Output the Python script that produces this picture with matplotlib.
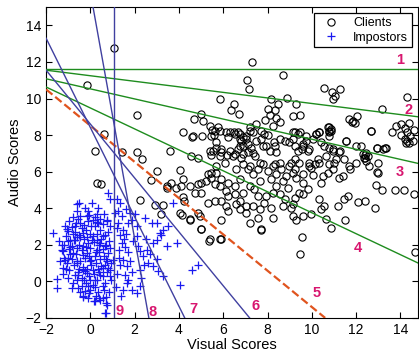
import numpy as np
import matplotlib
matplotlib.use("Agg")
import matplotlib.pyplot as plt

plt.rcParams['font.family'] = ['Liberation Sans', 'DejaVu Sans']

# client scores (visual, audio)
clients = [
    (1.05,12.75),(-0.15,10.75),(2.1,9.1),(0.6,8.05),(0.2,7.15),(1.45,7.05),(2.1,7.1),(2.35,6.7),
    (3.6,7.15),(3.0,6.05),(4.05,6.1),(0.3,5.4),(0.5,5.3),(2.25,4.45),(2.9,4.15),(3.3,4.15),
    (3.2,3.7),(2.75,5.55),(3.45,5.2),(3.85,5.1),(4.2,4.6),(4.15,3.65),(4.5,3.4),(5.0,2.85),
    (5.35,2.2),(5.85,2.3),(7.7,2.8),(9.45,1.5),(9.55,2.45),(14.65,1.6),
    (7.3,12.0),(7.05,11.0),(7.15,10.5),(8.7,11.3),(5.85,10.0),(6.5,9.7),(6.35,9.35),(6.7,9.15),
    (8.15,10.0),(8.45,9.7),(8.9,10.05),(9.3,9.7),(8.0,9.4),(8.35,9.35),(10.55,10.55),(10.9,10.35),
    (11.25,10.5),(11.05,10.15),(10.95,9.95),(14.3,10.1),(13.15,9.45),(9.15,9.05),(9.45,9.1),
    (8.4,8.95),(8.55,8.7),(8.25,8.5),(4.2,8.15),(4.7,8.9),(5.0,9.15),(5.1,8.75),(4.65,7.95),
    (5.05,7.95),(4.6,7.87),(5.5,8.3),(5.75,8.45),(5.6,8.0),(6.29,8.18),(6.48,8.15),(6.74,8.05),
    (6.89,7.87),(6.81,7.69),(7.01,7.78),(7.11,7.5),(6.74,7.41),(7.19,8.24),(7.49,8.6),(7.7,8.2),
    (7.9,8.8),(8.1,9.1),(8.3,7.6),(7.8,7.4),(8.0,8.0),
    (5.66,7.32),(5.39,7.14),(5.46,6.9),(5.84,6.86),(5.92,7.05),(6.17,6.9),(6.29,7.14),(6.51,6.96),
    (6.66,7.23),(6.89,6.96),(7.11,7.08),(7.27,7.32),(7.34,7.01),(7.45,6.83),(4.56,6.83),(4.86,6.77),
    (12.67,8.24),(11.69,8.88),(11.87,8.79),(12.02,9.03),(11.8,8.7),(11.96,8.66),
    (13.62,8.15),(13.8,8.51),(14.02,8.6),(14.22,8.37),(14.29,8.15),(14.4,8.66),(14.62,8.29),
    (14.02,8.0),(14.22,7.78),(14.44,7.96),(14.29,7.69),(14.55,7.69),(14.25,7.56),(14.4,7.56),
    (10.79,8.42),(10.79,8.24),(10.87,8.33),(10.76,8.15),(10.34,8.15),(10.19,8.05),(10.04,7.78),
    (9.74,7.69),(9.36,8.05),(9.22,8.15),(9.47,8.15),(9.14,7.78),(9.62,7.51),(9.56,7.23),
    (9.82,7.14),(10.42,7.6),(10.57,7.41),(10.79,7.32),(10.94,7.14),(11.27,7.14),(11.55,7.69),
    (12.22,7.38),(12.41,6.9),(12.37,6.77),(12.92,7.32),(13.19,7.23),(13.35,7.27),
    (3.66,5.4),(3.44,5.13),(4.16,5.58),(4.11,5.21),(4.49,5.21),(4.71,4.85),(5.01,4.85),(4.86,5.31),
    (5.01,5.4),(5.24,5.49),(5.46,5.68),(5.61,5.31),(5.31,5.86),(5.69,5.95),(5.91,5.58),(5.84,5.21),
    (6.14,4.96),(6.21,5.4),(6.51,5.21),(6.74,5.58),(6.59,6.13),(6.89,6.41),(7.11,6.13),(7.34,5.86),
    (7.56,6.13),(7.79,6.41),(8.01,6.04),(8.24,6.31),(8.39,5.86),(8.17,5.58),(7.64,5.49),(7.19,5.21),
    (7.41,5.03),(6.89,4.85),(6.51,4.76),(6.21,4.66),(5.91,4.39),(5.61,4.39),(5.31,4.3),(6.14,4.12),
    (6.59,4.21),(6.74,4.39),(7.04,4.12),(7.34,4.12),(7.64,3.93),(7.86,4.3),(8.17,4.03),(7.56,4.66),
    (7.94,4.66),(8.24,4.85),(8.39,5.21),(4.49,3.38),(4.97,3.57),(5.01,2.87),(4.04,3.75),(4.22,4.39),
    (4.86,3.75),(5.91,3.35),(5.39,2.29),(5.91,2.32),(7.71,2.84),(7.19,3.2),(7.56,3.48),(8.24,3.48),
    (6.74,3.93),(7.04,3.75),(6.21,3.85),
    (12.97,5.91),(12.9,5.25),(13.17,4.99),(13.77,4.98),(14.17,4.98),(14.59,4.76),(11.73,6.13),
    (11.66,6.31),(11.24,5.68),(11.39,5.76),(10.49,5.76),(10.42,5.4),(10.04,5.8),(9.97,6.22),
    (9.89,6.5),(9.59,5.86),(9.62,5.4),(9.29,5.68),(9.14,5.95),(9.22,6.13),(8.84,5.76),(8.69,5.49),
    (8.91,5.13),(9.82,5.07),(9.59,4.76),(9.44,4.85),(9.22,4.58),(9.07,4.03),(9.14,3.57),(9.29,3.38),
    (9.59,3.57),(9.97,3.66),(10.34,4.48),(10.57,4.12),(10.42,3.93),(10.64,3.42),(10.87,2.93),
    (11.17,4.12),(11.47,4.48),(11.62,4.66),(12.07,4.33),(12.41,4.39),(12.86,4.03),(11.51,3.38),
    (8.54,4.76),(8.77,4.48),(8.69,4.12),(9.14,4.21),(9.07,6.5),(8.62,6.13),(9.22,6.68),(10.12,6.41),
    (10.27,6.68),(10.79,6.41),(11.02,6.5),(10.94,6.13),(10.72,5.95),
    (5.39,8.51),(5.61,8.24),(5.84,8.24),(5.46,7.96),(5.69,7.6),(5.54,7.14),(5.91,7.23),(6.14,8.15),
    (6.21,7.87),(6.51,8.05),(6.66,8.15),(6.74,7.78),(6.89,7.41),(7.04,7.96),(7.19,8.42),(7.34,8.15),
    (7.49,7.69),(7.71,7.78),(7.86,8.05),(7.94,7.41),(8.09,7.14),(8.32,7.41),(8.39,7.05),(8.54,7.78),
    (8.77,7.69),(8.99,7.6),(9.14,8.15),(9.22,7.41),(9.36,7.14),(9.59,7.41),(9.74,7.96),(9.89,7.23),
    (10.19,8.05),(10.34,8.15),(10.72,8.42),(10.87,8.24),(10.79,7.96),(10.94,7.23),(11.24,7.05),
    (11.55,7.69),(11.99,7.41),(12.29,6.96),(11.99,6.5),(12.45,6.59),(12.52,6.86),(12.59,6.31),
    (11.47,6.68),(11.09,6.68),(10.64,6.86),(10.34,6.5),(9.89,6.31),(9.44,6.5),(8.99,6.31),(8.54,6.5),
    (8.32,6.41),(7.64,6.5),(7.19,6.31),(6.81,6.77),(6.44,6.86),(6.06,6.5),(5.69,6.31),(5.46,5.95),
    (12.4,6.72),(12.45,7.0),(12.94,6.0),(13.0,6.5),(12.67,8.2),(12.94,7.32),(13.3,7.32),
]

# impostor scores (visual, audio)
impostors = [
    (-1.67,2.65),(-1.52,0.12),(-1.49,-0.37),(-1.29,2.01),(-1.22,1.64),(-1.14,1.19),(-1.22,0.73),
    (-0.99,2.74),(-0.92,2.28),(-0.84,1.92),(-0.77,1.55),(-0.62,4.21),(-0.59,3.84),(-0.47,3.2),
    (-0.39,2.93),(-0.5,2.56),(-0.69,2.28),(-0.62,1.0),(-0.32,0.63),(-0.54,0.36),(-0.84,-0.37),
    (-0.39,-0.28),(-0.32,-0.83),(-0.24,-0.55),(-0.09,-0.28),(-0.02,0.09),(-0.17,0.45),(0.06,4.3),
    (-0.09,3.84),(-0.17,3.57),(0.13,3.38),(0.28,3.66),(0.36,3.2),(0.43,2.83),(0.58,3.11),(0.73,3.29),
    (0.58,2.47),(0.43,2.1),(0.28,1.73),(0.21,1.37),(-0.02,1.09),(-0.17,1.55),(-0.32,1.92),(0.06,2.28),
    (0.28,2.28),(0.66,1.92),(0.81,1.55),(0.73,1.09),(0.58,0.73),(0.43,0.36),(0.21,0.09),(0.58,-0.28),
    (0.7,-0.83),(0.76,-1.29),(0.7,-1.75),(0.88,0.63),(0.88,0.27),(1.03,1.19),(0.88,4.48),(0.81,4.85),
    (1.18,4.48),(1.33,4.3),(1.26,3.84),(1.11,3.75),(1.41,3.57),(1.6,3.93),(1.79,3.75),(1.71,3.2),
    (1.49,2.83),(1.33,2.56),(1.41,2.1),(1.3,1.73),(1.46,1.19),(1.64,0.82),(1.56,0.36),(1.71,0.09),
    (1.86,3.38),(2.09,3.02),(1.94,2.19),(2.16,1.92),(2.24,1.64),(2.39,1.37),(2.54,1.73),(2.61,1.0),
    (2.84,2.1),(2.99,2.28),(3.14,2.65),(2.84,0.82),(3.06,0.54),(3.29,0.27),(3.44,1.92),(3.89,2.1),
    (3.51,3.02),(2.46,3.47),(2.76,3.2),(2.99,3.2),(3.21,2.56),(3.29,2.83),(3.74,4.3),(4.04,-0.19),
    (4.61,0.63),(4.87,0.91),(2.24,0.63),(1.86,-0.46),(2.09,-0.65),(2.24,-0.28),(1.64,-0.1),(1.49,-0.46),
    (-1.1,2.5),(-1.0,2.2),(-0.9,1.9),(-0.8,2.6),(-0.7,3.0),(-0.6,2.4),(-0.5,2.0),(-0.4,1.7),
    (-0.3,2.3),(-0.2,2.8),(-0.1,2.1),(0.0,1.8),(0.1,2.5),(0.2,3.0),(0.3,2.6),(0.4,1.6),(0.5,2.3),
    (0.6,1.4),(0.7,2.0),(0.8,2.7),(-1.2,1.3),(-1.05,1.0),(-0.95,0.6),(-0.85,1.2),(-0.75,0.9),
    (-0.65,1.5),(-0.55,0.5),(-0.45,1.1),(-0.35,0.8),(-0.25,1.3),(-0.15,0.7),(-0.05,1.4),(0.05,0.9),
    (0.15,0.4),(0.25,1.0),(0.35,0.7),(0.45,1.2),(0.55,0.3),(0.65,0.9),(0.75,0.5),(-1.15,3.0),
    (-0.95,3.3),(-0.8,3.5),(-0.65,3.2),(-0.45,3.6),(-0.3,3.1),(-0.1,3.3),(0.05,3.0),(0.2,3.5),
    (0.45,3.4),(0.6,3.7),(0.35,4.0),(-0.25,4.0),(-0.5,4.3),(0.0,2.6),(-0.35,2.65),(-0.6,1.85),
    (-0.9,1.5),(-1.3,1.7),(-1.4,2.2),(-1.35,1.1),(-1.25,0.4),(-1.0,0.2),(-0.8,-0.1),(-0.6,0.1),
    (-0.4,0.2),(-0.2,-0.1),(0.0,-0.5),(0.2,-0.3),(0.35,-0.6),(0.45,-1.0),(0.15,-1.1),(-0.1,-0.9),
    (0.6,-0.45),(0.3,0.1),(0.1,0.6),(-0.3,0.05),(-0.7,0.35),(-1.1,0.7),(-0.55,-0.35),(-0.75,2.25),
    (-0.45,2.45),(-0.15,2.4),(0.15,2.15),(0.4,2.0),(0.65,2.55),(0.85,2.2),(0.9,1.8),(0.7,1.2),
    (0.5,0.85),(0.95,1.0),(0.9,3.0),(0.95,0.1),(0.85,-0.6),(0.55,-0.9),(-0.05,0.3),(-0.5,0.7),
    (-0.95,1.75),(-1.05,2.85),(-0.2,1.9),(-0.85,2.95),(-0.55,3.4),(-0.35,1.45),(0.05,1.15),
    (0.25,1.6),(0.55,1.75),(0.75,3.35),(0.3,3.25),(-0.05,3.65),(-0.7,2.7),(-1.2,2.0),(-1.0,1.3),
    (-0.6,1.1),(-0.25,0.55),(0.1,-0.2),(0.4,0.5),(0.8,0.75),(0.65,-0.1),(-0.45,-0.6),(0.25,-0.8),
    (1.2,2.9),(1.3,1.3),(1.5,2.3),(1.7,1.6),(1.9,0.5),(2.1,2.5),(2.3,0.2),(1.2,0.4),(1.4,-0.8),
    (1.8,1.1),(2.0,3.7),(1.25,3.2),(1.6,2.6),(2.5,2.3),(2.7,1.5),(1.15,-0.3),(1.35,0.9),(1.55,1.9),
    (2.4,0.9),(3.0,1.2),(0.67,-1.71),(0.22,-1.1),(0.7,-1.19),(-0.05,-0.64),(-0.35,-0.79),(0.4,-0.92),
]

# decision lines: (x0, y0, x1, y1), colour, style
lines = [
    ((-2, 11.6, 14.8, 11.6), '#1e8c1e', '-'),
    ((-2, 11.55, 14.8, 9.0), '#1e8c1e', '-'),
    ((-2, 11.08, 14.8, 6.45), '#1e8c1e', '-'),
    ((-2, 10.63, 14.8, 1.0), '#1e8c1e', '-'),
    ((-2, 10.5, 10.6, -2), '#e0541e', '--'),
    ((-2, 11.55, 7.19, -2), '#4040a0', '-'),
    ((-2, 13.3, 4.26, -2), '#4040a0', '-'),
    ((0.12, 15, 2.64, -2), '#4040a0', '-'),
    ((1.08, 15, 1.08, -2), '#4040a0', '-'),
]
line_names = ['1', '2', '3', '4', '5', '6', '7', '8', '9']
label_pos = [(14.0, 12.1), (14.35, 9.35), (13.95, 6.0), (12.1, 1.85), (10.2, -0.65),
             (7.45, -1.35), (4.65, -1.5), (2.8, -1.65), (1.33, -1.6)]

fig = plt.figure(figsize=(4.19, 3.56), dpi=100)
ax = fig.add_axes([0.11, 0.107, 0.888, 0.873])

cx, cy = zip(*clients)
ix, iy = zip(*impostors)
ax.plot(ix, iy, '+', color='#1a1af0', ms=5.5, mew=0.9, label='Impostors', zorder=2)
ax.plot(cx, cy, 'o', mfc='none', mec='black', ms=5.2, mew=0.8, label='Clients', zorder=3)

for (x0, y0, x1, y1), c, ls in lines:
    lw = 1.6 if ls == '--' else 1.0
    ax.plot([x0, x1], [y0, y1], color=c, ls=ls, lw=lw, zorder=4)

for name, (tx, ty) in zip(line_names, label_pos):
    ax.text(tx, ty, name, color='#d8166f', fontsize=10.5, fontweight='bold',
            ha='center', va='center', zorder=5)

ax.set_xlim(-2, 14.8)
ax.set_ylim(-2, 15)
ax.set_xticks(np.arange(-2, 15, 2))
ax.set_yticks(np.arange(-2, 15, 2))
ax.tick_params(direction='in', top=True, right=True, labelsize=10, length=4)
ax.set_xlabel('Visual Scores', fontsize=10.5, labelpad=1)
ax.set_ylabel('Audio Scores', fontsize=10.5, labelpad=2)

handles, labels = ax.get_legend_handles_labels()
leg = ax.legend(handles[::-1], labels[::-1], loc='upper right', fontsize=9,
                fancybox=False, edgecolor='black', framealpha=1,
                borderaxespad=0.5, handletextpad=0.8, borderpad=0.3, labelspacing=0.2)
leg.get_frame().set_linewidth(0.9)

fig.savefig('out.png', dpi=100)
